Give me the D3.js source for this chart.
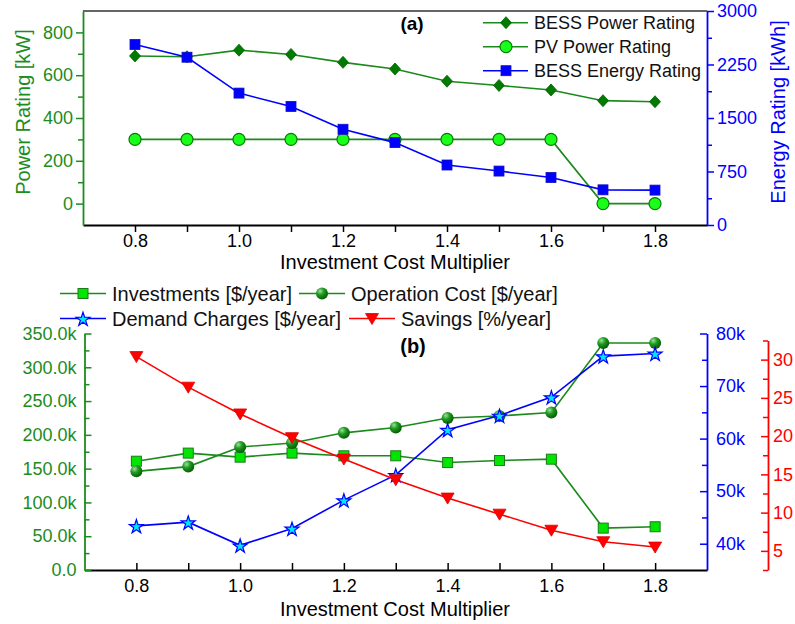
<!DOCTYPE html>
<html>
<head>
<meta charset="utf-8">
<script src="https://cdn.jsdelivr.net/npm/d3@7"></script>
<style>
  body { margin: 0; background: #fff; }
  svg { font-family: Arial, "Liberation Sans", sans-serif; }
</style>
</head>
<body>
<div id="chart"></div>
<script>
// data
var multipliers = [0.8, 0.9, 1.0, 1.1, 1.2, 1.3, 1.4, 1.5, 1.6, 1.7, 1.8];
// panel (a)
var bessPower = [690, 686, 717, 697, 660, 629, 572, 552, 531, 481, 476];
var pvPower = [300, 300, 300, 300, 300, 300, 300, 300, 300, 0, 0];
var bessEnergy = [2530, 2352, 1849, 1662, 1342, 1155, 841, 756, 666, 493, 489];
// panel (b)
var investments = [161000, 173000, 167000, 173000, 169000, 169000, 159000, 162000, 164000, 62000, 64000];
var operationCost = [146000, 153000, 182000, 188000, 203000, 211000, 225000, 228000, 233000, 336000, 336000];
var demandCharges = [43400, 44100, 39700, 42900, 48300, 53100, 61700, 64400, 67900, 75700, 76200];
var savings = [30.4, 26.4, 22.9, 19.8, 17.0, 14.3, 11.9, 9.8, 7.7, 6.2, 5.5];

var svgWidth = 795, svgHeight = 624;
var green = "#1c8c1c", blue = "#0000ff", red = "#ff0000";

var svg = d3.select("#chart").append("svg")
    .attr("width", svgWidth)
    .attr("height", svgHeight);

var defs = svg.append("defs");
var grad = defs.append("radialGradient").attr("id", "sphere")
    .attr("cx", "35%").attr("cy", "30%").attr("r", "70%");
grad.append("stop").attr("offset", "0%").attr("stop-color", "#9be29b");
grad.append("stop").attr("offset", "45%").attr("stop-color", "#1f9a1f");
grad.append("stop").attr("offset", "100%").attr("stop-color", "#065f06");

// marker helpers
function diamond(g, x, y) {
  g.append("path").attr("d", `M${x},${y - 6}L${x + 5.5},${y}L${x},${y + 6}L${x - 5.5},${y}Z`)
    .attr("fill", "#007a00").attr("stroke", "#006400").attr("stroke-width", 0.8);
}
function circle(g, x, y) {
  g.append("circle").attr("cx", x).attr("cy", y).attr("r", 6)
    .attr("fill", "#19ff19").attr("stroke", "#0a7a0a").attr("stroke-width", 1.2);
}
function blueSquare(g, x, y) {
  g.append("rect").attr("x", x - 5).attr("y", y - 5).attr("width", 10).attr("height", 10)
    .attr("fill", blue).attr("stroke", "#1010c0").attr("stroke-width", 0.8);
}
function greenSquare(g, x, y) {
  g.append("rect").attr("x", x - 5).attr("y", y - 5).attr("width", 10).attr("height", 10)
    .attr("fill", "#00e600").attr("stroke", "#1a7a1a").attr("stroke-width", 1);
}
function sphere(g, x, y) {
  g.append("circle").attr("cx", x).attr("cy", y).attr("r", 6)
    .attr("fill", "url(#sphere)");
}
function star(g, x, y) {
  g.append("path").attr("d", d3.symbol(d3.symbolStar, 60)())
    .attr("transform", `translate(${x},${y + 1})`)
    .attr("fill", "#00e5ff").attr("stroke", "#0000ff").attr("stroke-width", 1.2);
}
function triangle(g, x, y) {
  g.append("path").attr("d", `M${x - 6.5},${y - 5}L${x + 6.5},${y - 5}L${x},${y + 6}Z`)
    .attr("fill", red).attr("stroke", "#e00000").attr("stroke-width", 0.8);
}

function drawSeries(g, xs, ys, values, color, marker) {
  var line = d3.line().x((d, i) => xs(multipliers[i])).y(d => ys(d));
  g.append("path").datum(values).attr("d", line)
    .attr("fill", "none").attr("stroke", color).attr("stroke-width", 1.6);
  values.forEach(function(v, i) { marker(g, xs(multipliers[i]), ys(v)); });
}

function styleAxis(g, color, size) {
  g.attr("color", color);
  g.selectAll("text").style("font-size", size + "px").attr("font-family", "Arial, 'Liberation Sans', sans-serif");
  g.select(".domain").attr("stroke-width", 1.8);
  g.selectAll(".tick line").attr("stroke-width", 1.5);
}

// minor ticks drawn with a second axis, no labels
function minorAxis(axisFn, scale, values, size) {
  return axisFn(scale).tickValues(values).tickSize(size).tickFormat("");
}

// ---------------- panel (a) ----------------
var xTop = d3.scaleLinear().domain([0.7, 1.9]).range([83, 707]);
var yPower = d3.scaleLinear().domain([-100, 900]).range([225, 11]);
var yEnergy = d3.scaleLinear().domain([0, 3000]).range([225, 11]);

var panelA = svg.append("g");

// top frame line
panelA.append("line").attr("x1", 83).attr("x2", 707).attr("y1", 11).attr("y2", 11)
  .attr("stroke", "#333").attr("stroke-width", 1.6);

var xAxisTop = panelA.append("g").attr("transform", "translate(0,225)")
  .call(d3.axisBottom(xTop).tickValues(multipliers).tickSizeInner(7).tickSizeOuter(0).tickPadding(2)
    .tickFormat(d => (Math.round(d * 10) % 2 === 0 ? d.toFixed(1) : "")));
styleAxis(xAxisTop, "#000", 18);

var yAxisPower = panelA.append("g").attr("transform", "translate(83,0)")
  .call(d3.axisLeft(yPower).tickValues([0, 200, 400, 600, 800]).tickSizeInner(7).tickSizeOuter(0).tickPadding(3));
styleAxis(yAxisPower, green, 18);
var yPowerMinor = panelA.append("g").attr("transform", "translate(83,0)")
  .call(minorAxis(d3.axisLeft, yPower, [100, 300, 500, 700], 5));
styleAxis(yPowerMinor, green, 18);
yPowerMinor.select(".domain").remove();

var yAxisEnergy = panelA.append("g").attr("transform", "translate(707,0)")
  .call(d3.axisRight(yEnergy).tickValues([0, 750, 1500, 2250, 3000]).tickSizeInner(7).tickSizeOuter(0).tickPadding(3)
    .tickFormat(d3.format("d")));
styleAxis(yAxisEnergy, blue, 18);
var yEnergyMinor = panelA.append("g").attr("transform", "translate(707,0)")
  .call(minorAxis(d3.axisRight, yEnergy, [375, 1125, 1875, 2625], 5));
styleAxis(yEnergyMinor, blue, 18);
yEnergyMinor.select(".domain").remove();

panelA.append("text").attr("x", 395).attr("y", 269).attr("text-anchor", "middle")
  .style("font-size", "20px").attr("fill", "#000").text("Investment Cost Multiplier");
panelA.append("text").attr("transform", "translate(30,112) rotate(-90)").attr("text-anchor", "middle")
  .style("font-size", "20px").attr("fill", green).text("Power Rating [kW]");
panelA.append("text").attr("transform", "translate(785,112) rotate(-90)").attr("text-anchor", "middle")
  .style("font-size", "20px").attr("fill", blue).text("Energy Rating [kWh]");
panelA.append("text").attr("x", 412).attr("y", 30).attr("text-anchor", "middle")
  .style("font-size", "19px").style("font-weight", "bold").text("(a)");

var topSeries = panelA.append("g");
drawSeries(topSeries, xTop, yPower, pvPower, "#1a8a1a", circle);
drawSeries(topSeries, xTop, yPower, bessPower, "#1a8a1a", diamond);
drawSeries(topSeries, xTop, yEnergy, bessEnergy, blue, blueSquare);

// legend (a)
var legendA = [
  { name: "BESS Power Rating", color: "#1a8a1a", marker: diamond },
  { name: "PV Power Rating", color: "#1a8a1a", marker: circle },
  { name: "BESS Energy Rating", color: blue, marker: blueSquare }
];
legendA.forEach(function(d, i) {
  var y = 22.7 + i * 24;
  panelA.append("line").attr("x1", 483).attr("x2", 528).attr("y1", y).attr("y2", y)
    .attr("stroke", d.color).attr("stroke-width", 1.6);
  d.marker(panelA, 506, y);
  panelA.append("text").attr("x", 534).attr("y", y + 6.5).style("font-size", "18px")
    .attr("fill", "#111").text(d.name);
});

// ---------------- panel (b) ----------------
var xBot = d3.scaleLinear().domain([0.7, 1.9]).range([84.5, 707]);
var yCost = d3.scaleLinear().domain([0, 350000]).range([570, 333.5]);
var yDemand = d3.scaleLinear().domain([35000, 80000]).range([570, 333.5]);
var ySavings = d3.scaleLinear().domain([2.5, 32.5]).range([570, 340.5]);

var panelB = svg.append("g");

var xAxisBot = panelB.append("g").attr("transform", "translate(0,570)")
  .call(d3.axisBottom(xBot).tickValues(multipliers).tickSizeInner(-7).tickSizeOuter(0).tickPadding(9)
    .tickFormat(d => (Math.round(d * 10) % 2 === 0 ? d.toFixed(1) : "")));
styleAxis(xAxisBot, "#000", 18);

var yAxisCost = panelB.append("g").attr("transform", "translate(84.5,0)")
  .call(d3.axisLeft(yCost).tickValues(d3.range(0, 350001, 50000)).tickSizeInner(-7).tickSizeOuter(0).tickPadding(8)
    .tickFormat(d => d === 0 ? "0.0" : (d / 1000).toFixed(1) + "k"));
styleAxis(yAxisCost, green, 18);
var yCostMinor = panelB.append("g").attr("transform", "translate(84.5,0)")
  .call(minorAxis(d3.axisLeft, yCost, d3.range(25000, 350000, 50000), -5));
styleAxis(yCostMinor, green, 18);
yCostMinor.select(".domain").remove();

var yAxisDemand = panelB.append("g").attr("transform", "translate(707,0)")
  .call(d3.axisRight(yDemand).tickValues([40000, 50000, 60000, 70000, 80000]).tickSizeInner(-7).tickSizeOuter(0).tickPadding(9)
    .tickFormat(d => (d / 1000) + "k"));
styleAxis(yAxisDemand, blue, 18);
var yDemandMinor = panelB.append("g").attr("transform", "translate(707,0)")
  .call(minorAxis(d3.axisRight, yDemand, [45000, 55000, 65000, 75000], -5));
styleAxis(yDemandMinor, blue, 18);
yDemandMinor.select(".domain").remove();

var yAxisSavings = panelB.append("g").attr("transform", "translate(768,0)")
  .call(d3.axisRight(ySavings).tickValues([5, 10, 15, 20, 25, 30]).tickSizeInner(-7).tickSizeOuter(0).tickPadding(5));
styleAxis(yAxisSavings, red, 18);
var ySavingsMinor = panelB.append("g").attr("transform", "translate(768,0)")
  .call(minorAxis(d3.axisRight, ySavings, [2.5, 7.5, 12.5, 17.5, 22.5, 27.5, 32.5], -5));
styleAxis(ySavingsMinor, red, 18);
ySavingsMinor.select(".domain").remove();

panelB.append("text").attr("x", 395).attr("y", 616).attr("text-anchor", "middle")
  .style("font-size", "20px").attr("fill", "#000").text("Investment Cost Multiplier");
panelB.append("text").attr("x", 413).attr("y", 353).attr("text-anchor", "middle")
  .style("font-size", "20px").style("font-weight", "bold").text("(b)");

var botSeries = panelB.append("g");
drawSeries(botSeries, xBot, yCost, investments, "#1a8a1a", greenSquare);
drawSeries(botSeries, xBot, yCost, operationCost, "#1a8a1a", sphere);
drawSeries(botSeries, xBot, yDemand, demandCharges, blue, star);
drawSeries(botSeries, xBot, ySavings, savings, red, triangle);

// legend (b), two rows laid out left to right
var legendB = [
  { name: "Investments [$/year]", color: "#1a8a1a", marker: greenSquare, x: 60, row: 0 },
  { name: "Operation Cost [$/year]", color: "#1a8a1a", marker: sphere, x: 299, row: 0 },
  { name: "Demand Charges [$/year]", color: blue, marker: star, x: 60, row: 1 },
  { name: "Savings [%/year]", color: red, marker: triangle, x: 349, row: 1 }
];
legendB.forEach(function(d) {
  var y = 293.5 + d.row * 25;
  panelB.append("line").attr("x1", d.x).attr("x2", d.x + 46).attr("y1", y).attr("y2", y)
    .attr("stroke", d.color).attr("stroke-width", 1.6);
  d.marker(panelB, d.x + 23, y);
  panelB.append("text").attr("x", d.x + 52).attr("y", y + 7).style("font-size", "20px")
    .attr("fill", "#111").text(d.name);
});
</script>
</body>
</html>
